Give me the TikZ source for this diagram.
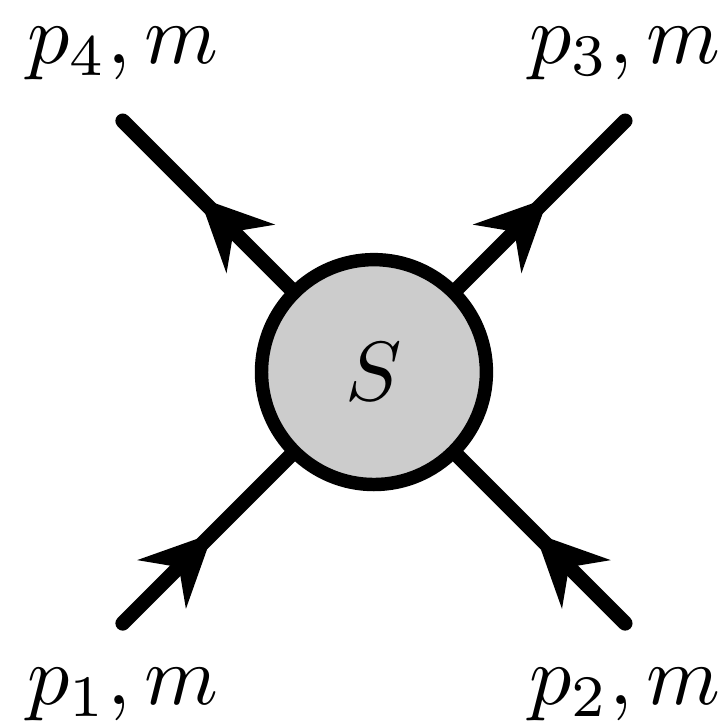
\documentclass[tikz,border=0pt]{standalone}
\usepackage{amsmath}
\usetikzlibrary{arrows.meta,positioning,decorations.markings}

\begin{document}
\begin{tikzpicture}[
        blob/.style={circle,draw,line width=1.6pt,fill=gray!40,minimum size=9.4mm,inner sep=0pt},
        fermion/.style={line width=1.75pt,line cap=round,postaction={decorate},
          decoration={markings,mark=at position .54 with {\arrow{Stealth[length=8.5pt,width=8pt,inset=2.8pt]}}}}]
        \useasboundingbox (-1.563,-1.459) rectangle (1.459,1.555);
        \node[blob] (S) at (0,0) {$S$};
        \coordinate (p1) at (-1.05,-1.05);
        \coordinate (p2) at (1.05,-1.05);
        \coordinate (p3) at (1.05,1.05);
        \coordinate (p4) at (-1.05,1.05);
        \draw[fermion] (p1) -- (S);
        \draw[fermion] (p2) -- (S);
        \draw[fermion] (S) -- (p3);
        \draw[fermion] (S) -- (p4);
        \node[below=1.8pt of p1] (l1) {$p_1, m$};
        \node[below=1.8pt of p2] (l2) {$p_2, m$};
        \node[above=1.4pt of p3] (l3) {$p_3, m$};
        \node[above=1.4pt of p4] (l4) {$p_4, m$};
      \end{tikzpicture}
\end{document}
